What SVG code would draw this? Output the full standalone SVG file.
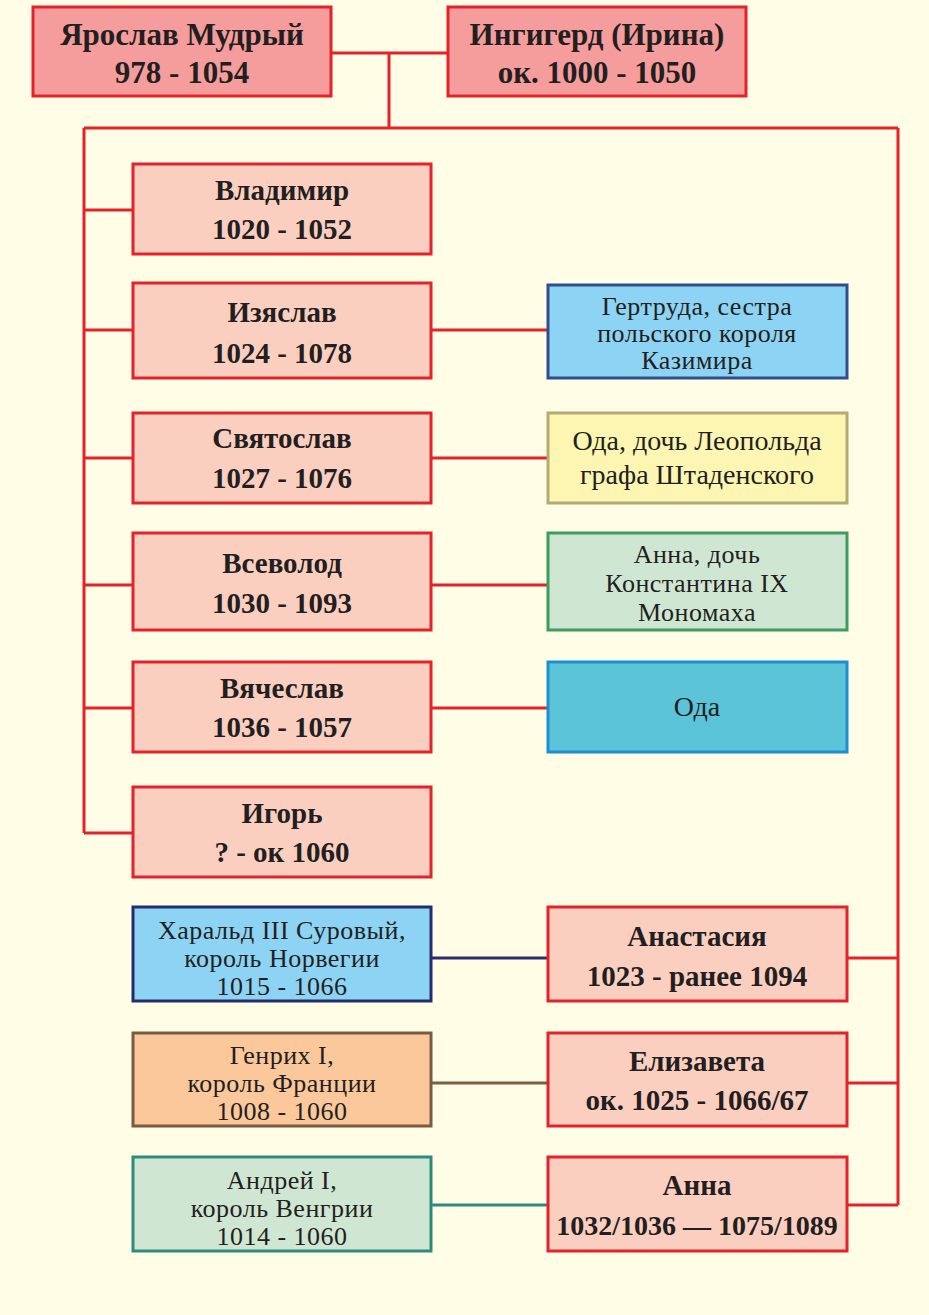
<svg xmlns="http://www.w3.org/2000/svg" width="929" height="1315" viewBox="0 0 929 1315">
<style>
.bg{fill:#FFFDE5}
.box{stroke-width:3}
.top{fill:#F59C9C;stroke:#E4222B}
.son{fill:#FBCFC0;stroke:#E4222B}
.t{font-family:"Liberation Serif","DejaVu Serif",serif;fill:#231F20;text-anchor:middle}
.b{font-weight:bold;font-size:29px}
.tb{font-weight:bold;font-size:31px}
.n{font-size:28px}
.n3{font-size:26px;letter-spacing:0.5px}
.c{fill:none;stroke-width:3}
.red{stroke:#E4222B}
</style>
<rect class="bg" x="0" y="0" width="929" height="1315"/>
<g id="connectors">
<path class="c red" d="M331 53H448M389 53V128M84 128H898M84 128V833M84 210H133M84 330H133M84 458H133M84 585H133M84 708H133M84 833H133M898 128V1205M847 958H898M847 1083H898M847 1205H898"/>
<path class="c red" d="M431 330H548M431 458H548M431 585H548M431 708H548"/>
<path class="c" stroke="#2A2E6E" d="M431 958H548"/>
<path class="c" stroke="#7A5E45" d="M431 1083H548"/>
<path class="c" stroke="#2E8B7C" d="M431 1205H548"/>
</g>
<g id="yaroslav"><rect class="box top" x="33" y="7" width="298" height="89"/><text class="t tb" x="182" y="45">Ярослав Мудрый</text><text class="t tb" x="182" y="83">978 - 1054</text></g>
<g id="ingigerd"><rect class="box top" x="448" y="7" width="298" height="89"/><text class="t tb" x="597" y="45">Ингигерд (Ирина)</text><text class="t tb" x="597" y="83">ок. 1000 - 1050</text></g>
<g id="vladimir"><rect class="box son" x="133" y="164" width="298" height="90"/><text class="t b" x="282" y="200">Владимир</text><text class="t b" x="282" y="239">1020 - 1052</text></g>
<g id="izyaslav"><rect class="box son" x="133" y="283" width="298" height="95"/><text class="t b" x="282" y="322">Изяслав</text><text class="t b" x="282" y="363">1024 - 1078</text></g>
<g id="svyatoslav"><rect class="box son" x="133" y="413" width="298" height="90"/><text class="t b" x="282" y="448">Святослав</text><text class="t b" x="282" y="488">1027 - 1076</text></g>
<g id="vsevolod"><rect class="box son" x="133" y="533" width="298" height="97"/><text class="t b" x="282" y="573">Всеволод</text><text class="t b" x="282" y="613">1030 - 1093</text></g>
<g id="vyacheslav"><rect class="box son" x="133" y="662" width="298" height="90"/><text class="t b" x="282" y="698">Вячеслав</text><text class="t b" x="282" y="737">1036 - 1057</text></g>
<g id="igor"><rect class="box son" x="133" y="787" width="298" height="90"/><text class="t b" x="282" y="823">Игорь</text><text class="t b" x="282" y="862">? - ок 1060</text></g>
<g id="gertruda"><rect class="box" fill="#8DD3F4" stroke="#2F4E8C" x="548" y="285" width="299" height="93"/><text class="t n3" x="697" y="315">Гертруда, сестра</text><text class="t n3" x="697" y="342">польского короля</text><text class="t n3" x="697" y="369">Казимира</text></g>
<g id="oda-leopold"><rect class="box" fill="#FDF5B2" stroke="#B3AC72" x="548" y="413" width="299" height="90"/><text class="t n" x="697" y="450">Ода, дочь Леопольда</text><text class="t n" x="697" y="484">графа Штаденского</text></g>
<g id="anna-monomakh"><rect class="box" fill="#CFE6D3" stroke="#3F9B5F" x="548" y="533" width="299" height="97"/><text class="t n3" x="697" y="563">Анна, дочь</text><text class="t n3" x="697" y="592">Константина IX</text><text class="t n3" x="697" y="621">Мономаха</text></g>
<g id="oda"><rect class="box" fill="#5CC4D8" stroke="#1D8FD1" x="548" y="662" width="299" height="90"/><text class="t n" x="697" y="716">Ода</text></g>
<g id="harald"><rect class="box" fill="#8DD3F4" stroke="#252C6A" x="133" y="907" width="298" height="94"/><text class="t n3" x="282" y="939">Харальд III Суровый,</text><text class="t n3" x="282" y="967">король Норвегии</text><text class="t n3" x="282" y="995">1015 - 1066</text></g>
<g id="henrich"><rect class="box" fill="#FBC89C" stroke="#7A5B42" x="133" y="1033" width="298" height="93"/><text class="t n3" x="282" y="1064">Генрих I,</text><text class="t n3" x="282" y="1092">король Франции</text><text class="t n3" x="282" y="1120">1008 - 1060</text></g>
<g id="andrei"><rect class="box" fill="#CFE6D3" stroke="#2E8B7C" x="133" y="1157" width="298" height="94"/><text class="t n3" x="282" y="1189">Андрей I,</text><text class="t n3" x="282" y="1217">король Венгрии</text><text class="t n3" x="282" y="1245">1014 - 1060</text></g>
<g id="anastasia"><rect class="box son" x="548" y="907" width="299" height="94"/><text class="t b" x="697" y="946">Анастасия</text><text class="t b" x="697" y="986">1023 - ранее 1094</text></g>
<g id="elizaveta"><rect class="box son" x="548" y="1033" width="299" height="93"/><text class="t b" x="697" y="1071">Елизавета</text><text class="t b" x="697" y="1110">ок. 1025 - 1066/67</text></g>
<g id="anna"><rect class="box son" x="548" y="1157" width="299" height="94"/><text class="t b" x="697" y="1195">Анна</text><text class="t b" x="697" y="1235" style="font-size:28px">1032/1036 — 1075/1089</text></g>
</svg>
